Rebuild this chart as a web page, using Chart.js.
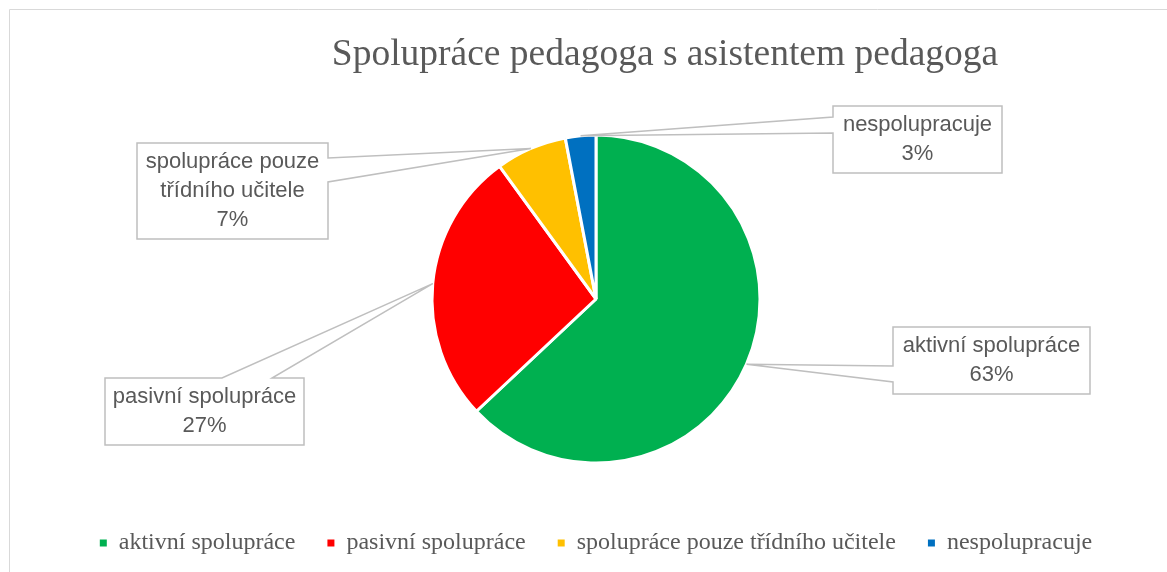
<!DOCTYPE html>
<html lang="cs">
<head>
<meta charset="utf-8">
<title>Spolupráce pedagoga s asistentem pedagoga</title>
<script src="https://cdn.jsdelivr.net/npm/chart.js@4.4.1/dist/chart.umd.min.js"></script>
<style>
  html, body { margin: 0; padding: 0; background: #fff; overflow: hidden; }
  #wrap { position: relative; width: 1167px; height: 572px; }
</style>
</head>
<body>
<div id="wrap"><canvas id="chart" width="1167" height="572"></canvas></div>
<script>
const categories = ["aktivní spolupráce", "pasivní spolupráce", "spolupráce pouze třídního učitele", "nespolupracuje"];
const shares = [63, 27, 7, 3];
const sliceColors = ["#00B050", "#FF0000", "#FFC000", "#0070C0"];
// label text as it wraps in the callout boxes
const calloutLines = [
  ["aktivní spolupráce"],
  ["pasivní spolupráce"],
  ["spolupráce pouze", "třídního učitele"],
  ["nespolupracuje"]
];

const titleText = "Spolupráce pedagoga s asistentem pedagoga";
const grey = "#595959";
const lineGrey = "#BFBFBF";

// where the callout boxes sit (box + side where the pointer leaves it)
const calloutBoxes = [
  { x: 893, y: 327, w: 197, h: 67, side: "left", from: 366, to: 382 },
  { x: 105, y: 378, w: 199, h: 67, side: "top", from: 222, to: 272 },
  { x: 137, y: 143, w: 191, h: 96, side: "right", from: 158, to: 182 },
  { x: 833, y: 106, w: 169, h: 67, side: "left", from: 117, to: 133 }
];

const frameAndTitle = {
  id: "frameAndTitle",
  beforeDraw(chart) {
    const ctx = chart.ctx;
    ctx.save();
    ctx.strokeStyle = "#D9D9D9";
    ctx.lineWidth = 1;
    ctx.beginPath();
    ctx.moveTo(9.5, chart.height);
    ctx.lineTo(9.5, 9.5);
    ctx.lineTo(chart.width, 9.5);
    ctx.stroke();

    ctx.fillStyle = grey;
    ctx.font = '37.5px "Liberation Serif", "Times New Roman", serif';
    ctx.textAlign = "center";
    ctx.textBaseline = "alphabetic";
    ctx.fillText(titleText, 665, 65);
    ctx.restore();
  }
};

const callouts = {
  id: "callouts",
  afterDatasetsDraw(chart) {
    const ctx = chart.ctx;
    const arcs = chart.getDatasetMeta(0).data;
    const total = shares.reduce((a, b) => a + b, 0);
    ctx.save();
    arcs.forEach((arc, i) => {
      const b = calloutBoxes[i];
      const mid = (arc.startAngle + arc.endAngle) / 2;
      const ax = arc.x + Math.cos(mid) * arc.outerRadius;
      const ay = arc.y + Math.sin(mid) * arc.outerRadius;
      const L = b.x, T = b.y, R = b.x + b.w, B = b.y + b.h;

      ctx.beginPath();
      if (b.side === "left") {
        ctx.moveTo(L, T); ctx.lineTo(R, T); ctx.lineTo(R, B); ctx.lineTo(L, B);
        ctx.lineTo(L, b.to); ctx.lineTo(ax, ay); ctx.lineTo(L, b.from);
      } else if (b.side === "right") {
        ctx.moveTo(L, T); ctx.lineTo(R, T); ctx.lineTo(R, b.from); ctx.lineTo(ax, ay);
        ctx.lineTo(R, b.to); ctx.lineTo(R, B); ctx.lineTo(L, B);
      } else {
        ctx.moveTo(L, T); ctx.lineTo(b.from, T); ctx.lineTo(ax, ay); ctx.lineTo(b.to, T);
        ctx.lineTo(R, T); ctx.lineTo(R, B); ctx.lineTo(L, B);
      }
      ctx.closePath();
      ctx.fillStyle = "#fff";
      ctx.fill();
      ctx.strokeStyle = lineGrey;
      ctx.lineWidth = 1.5;
      ctx.stroke();

      const lines = calloutLines[i].concat([Math.round(shares[i] / total * 100) + "%"]);
      const lh = 29;
      const cy = T + b.h / 2;
      ctx.fillStyle = grey;
      ctx.font = '22px "Liberation Sans", Arial, sans-serif';
      ctx.textAlign = "center";
      ctx.textBaseline = "middle";
      lines.forEach((t, k) => {
        ctx.fillText(t, L + b.w / 2, cy + (k - (lines.length - 1) / 2) * lh);
      });
    });
    ctx.restore();
  }
};

const defaultLabels = Chart.PieController.overrides.plugins.legend.labels.generateLabels;

new Chart(document.getElementById("chart"), {
  type: "pie",
  data: {
    labels: categories,
    datasets: [{
      data: shares,
      backgroundColor: sliceColors,
      borderColor: "#ffffff",
      borderWidth: 3,
      radius: 164
    }]
  },
  options: {
    responsive: false,
    animation: false,
    events: [],
    layout: { padding: { top: 99, left: 25, right: 0, bottom: 7 } },
    plugins: {
      title: { display: false },
      tooltip: { enabled: false },
      legend: {
        position: "bottom",
        labels: {
          color: grey,
          font: { family: '"Liberation Serif", "Times New Roman", serif', size: 24 },
          boxWidth: 7,
          boxHeight: 7,
          padding: 32,
          generateLabels(chart) {
            return defaultLabels(chart).map(item => Object.assign(item, { lineWidth: 0, strokeStyle: "rgba(0,0,0,0)" }));
          }
        }
      }
    }
  },
  plugins: [frameAndTitle, callouts]
});
</script>
</body>
</html>
